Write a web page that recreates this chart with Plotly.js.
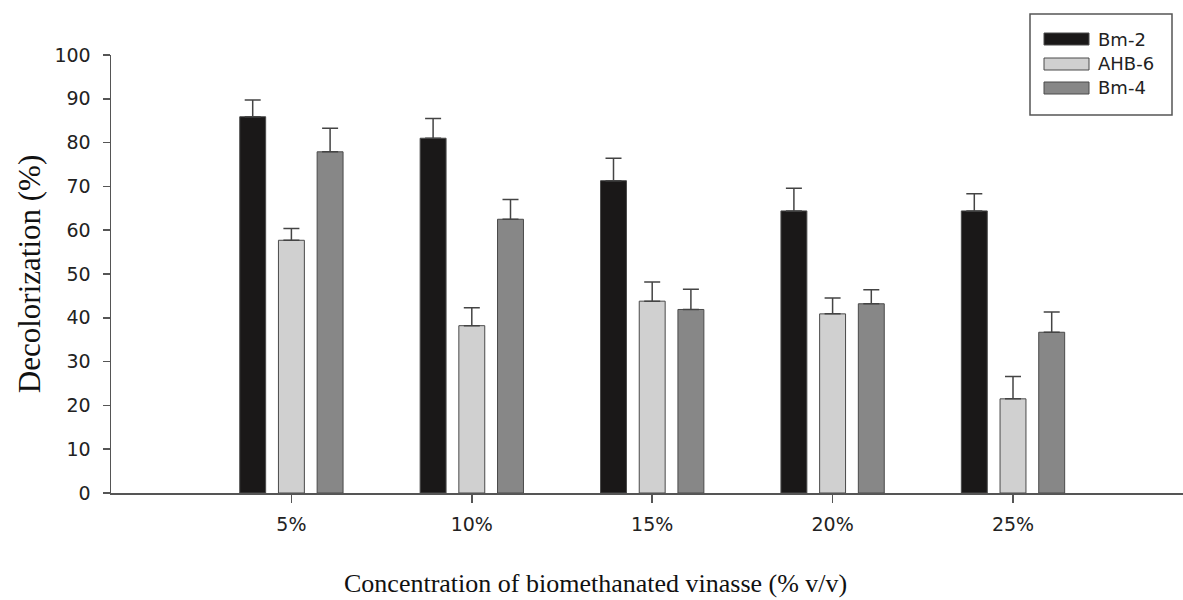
<!DOCTYPE html>
<html>
<head>
<meta charset="utf-8">
<script src="https://cdn.plot.ly/plotly-3.0.1.min.js"></script>
<style>html,body{margin:0;padding:0;background:#fff;}#chart{width:1183px;height:600px;}</style>
</head>
<body>
<div id="chart"></div>
<script>
// Data
const categories = ["5%", "10%", "15%", "20%", "25%"];
const seriesNames = ["Bm-2", "AHB-6", "Bm-4"];
const bm2Values = [85.9, 81.0, 71.3, 64.4, 64.4];
const bm2Errors = [3.8, 4.5, 5.1, 5.2, 3.9];
const ahb6Values = [57.7, 38.2, 43.8, 40.9, 21.5];
const ahb6Errors = [2.7, 4.1, 4.4, 3.6, 5.1];
const bm4Values = [77.9, 62.5, 41.9, 43.2, 36.7];
const bm4Errors = [5.4, 4.5, 4.6, 3.2, 4.6];
const yTickValues = [0, 10, 20, 30, 40, 50, 60, 70, 80, 90, 100];
const xTitle = "Concentration of biomethanated vinasse (% v/v)";
const yTitle = "Decolorization (%)";

const seriesValues = [bm2Values, ahb6Values, bm4Values];
const seriesErrors = [bm2Errors, ahb6Errors, bm4Errors];
const seriesColors = ["#1a1818", "#d0d0d0", "#878787"];

const sansFont = "DejaVu Sans, Liberation Sans, Arial, sans-serif";
const serifFont = "Liberation Serif, Times New Roman, serif";

const traces = seriesNames.map((name, i) => ({
  type: "bar",
  name: name,
  x: categories,
  y: seriesValues[i],
  marker: { color: seriesColors[i], line: { color: "#4a4a4a", width: 1 } },
  error_y: {
    type: "data",
    symmetric: false,
    array: seriesErrors[i],
    arrayminus: seriesErrors[i].map(() => 0),
    color: "#444444",
    thickness: 1.5,
    width: 8
  },
  showlegend: false,
  hoverinfo: "x+y+name"
}));

// plot area geometry (pixels)
const L = 111, R = 1183, T = 55, B = 493;
const px2x = p => (p - L) / (R - L);
const py2y = p => (B - p) / (B - T);

// custom legend (box + swatches + labels)
const shapes = [{
  type: "rect", xref: "paper", yref: "paper",
  x0: px2x(1030), x1: px2x(1172), y0: py2y(115), y1: py2y(14),
  line: { color: "#555555", width: 1.5 }, fillcolor: "rgba(0,0,0,0)"
}];
const annotations = [];
const rowY = [39, 64, 88];
seriesNames.forEach((name, i) => {
  shapes.push({
    type: "rect", xref: "paper", yref: "paper",
    x0: px2x(1044), x1: px2x(1089), y0: py2y(rowY[i] + 6), y1: py2y(rowY[i] - 6),
    fillcolor: seriesColors[i], line: { color: "#4a4a4a", width: 1 }
  });
  annotations.push({
    xref: "paper", yref: "paper", x: px2x(1096), y: py2y(rowY[i]),
    xanchor: "left", yanchor: "middle", showarrow: false, text: name,
    font: { family: sansFont, size: 18, color: "#222222" }
  });
});
// x-axis title (offset left of the plot-area centre, as in the reference)
annotations.push({
  xref: "paper", yref: "paper", x: px2x(595), y: py2y(583),
  xanchor: "center", yanchor: "middle", showarrow: false, text: xTitle,
  font: { family: serifFont, size: 26, color: "#111111" }
});

const layout = {
  width: 1183, height: 600,
  margin: { l: L, r: 1183 - R, t: T, b: 600 - B, pad: 0 },
  paper_bgcolor: "#ffffff", plot_bgcolor: "#ffffff",
  barmode: "group",
  bargap: 0.3565,
  bargroupgap: 0.33,
  showlegend: false,
  font: { family: sansFont, size: 19, color: "#222222" },
  xaxis: {
    type: "category",
    range: [-1, (R - L) / 180.4 - 1],
    showline: true, linecolor: "#555555", linewidth: 1.5,
    ticks: "outside", ticklen: 8, tickwidth: 1.5, tickcolor: "#555555",
    ticklabelstandoff: 6,
    showgrid: false, zeroline: false,
    tickfont: { family: sansFont, size: 19, color: "#222222" }
  },
  yaxis: {
    range: [0, 100],
    tickvals: yTickValues,
    showline: true, linecolor: "#555555", linewidth: 1.5,
    ticks: "outside", ticklen: 7, tickwidth: 1.5, tickcolor: "#555555",
    ticklabelstandoff: 8,
    showgrid: false, zeroline: false,
    tickfont: { family: sansFont, size: 19, color: "#222222" },
    title: { text: yTitle, standoff: 4,
      font: { family: serifFont, size: 31, color: "#111111" } }
  },
  shapes: shapes,
  annotations: annotations
};

Plotly.newPlot("chart", traces, layout, { displayModeBar: false, staticPlot: true });
</script>
</body>
</html>
